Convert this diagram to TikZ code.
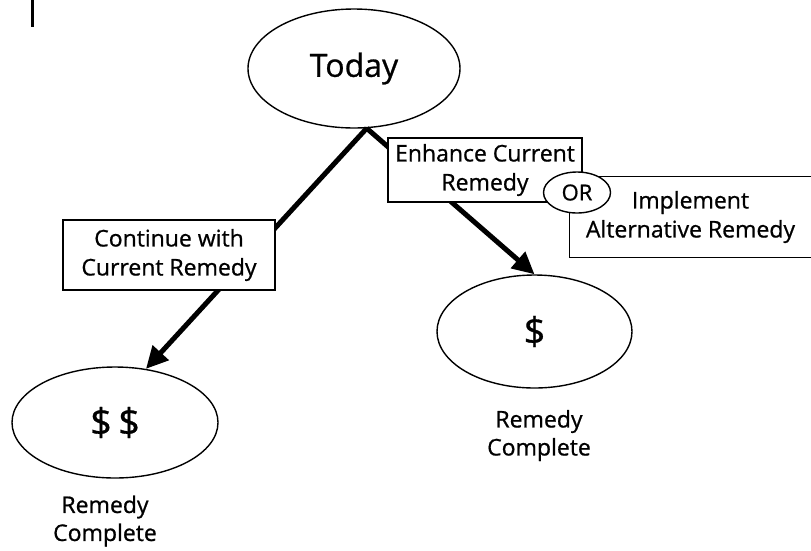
\documentclass[tikz,border=0pt]{standalone}
\usepackage{fontspec}
\setmainfont{Open Sans}[FakeBold=0.8]
\usetikzlibrary{shapes.geometric,arrows.meta}
\begin{document}
\begin{tikzpicture}[x=1pt,y=-1pt,
  bubble/.style={draw,ellipse,line width=1.4pt,inner sep=0pt},
  labelbox/.style={draw,fill=white,line width=1.4pt,inner sep=0pt,align=center,font=\fontsize{23}{29}\selectfont},
  branch/.style={line width=5pt,-{Triangle[length=22pt,width=21pt]}},
  txt/.style={font=\fontsize{23}{28}\selectfont,align=center,inner sep=0pt}]
\useasboundingbox (0,0) rectangle (811,550);
% stray bar
\coordinate (bartop) at (32,0);
\coordinate (barbot) at (32,27);
\draw[line width=3pt] (bartop) -- (barbot);
% ellipses
\node[bubble,minimum width=212pt,minimum height=119pt,font=\fontsize{32}{36}\selectfont] (today) at (354,68.5) {Today};
\node[bubble,minimum width=206pt,minimum height=111pt,font=\fontsize{38}{40}\selectfont] (dd) at (115,422.5) {\$\,\$};
\node[bubble,minimum width=195pt,minimum height=113pt,font=\fontsize{38}{40}\selectfont] (d) at (534.5,331.5) {\$};
% connectors
\coordinate (apex) at (today.-78);
\draw[branch] (apex) -- (dd.60);
\draw[branch] (apex) -- (d.north);
% boxes
\node[labelbox,minimum width=212pt,minimum height=70pt] (cont) at (169,255) {Continue with\\Current Remedy};
\node[labelbox,minimum width=194pt,minimum height=64pt] (enh) at (485,170) {Enhance Current\\Remedy};
\node[labelbox,draw=none,minimum width=241pt,minimum height=80pt] (impl) at (690.5,217) {Implement\\Alternative Remedy};
\draw[line width=1.4pt] ([xshift=10pt]impl.north east) -- (impl.north west) -- (impl.south west) -- ([xshift=10pt]impl.south east);
\node[bubble,fill=white,minimum width=67pt,minimum height=41pt,font=\fontsize{22}{24}\selectfont] (or) at (577,192.5) {OR};
% captions
\node[txt] (capl) at (105,521) {Remedy\\Complete};
\node[txt] (capr) at (539,435.5) {Remedy\\Complete};
\end{tikzpicture}
\end{document}
